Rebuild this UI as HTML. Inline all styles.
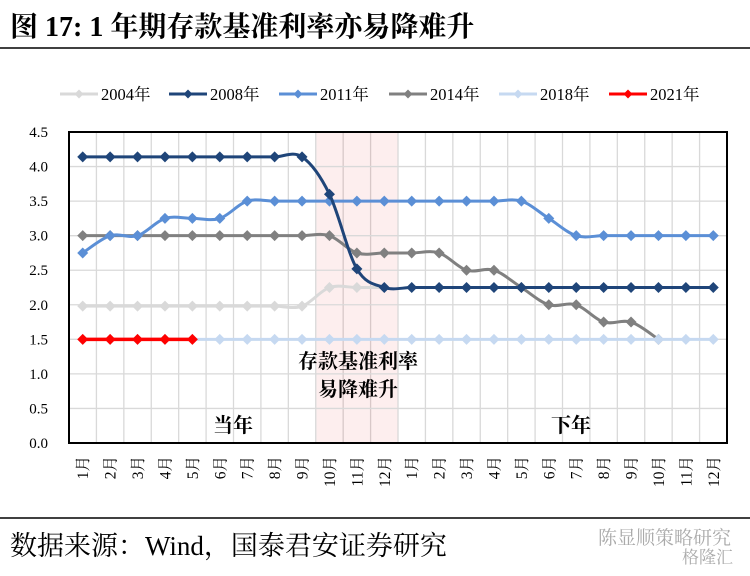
<!DOCTYPE html>
<html><head><meta charset="utf-8">
<style>
body{margin:0;background:#fff;}
svg text{font-family:"Liberation Serif","Noto Serif CJK SC",serif;}
</style></head>
<body>
<svg width="750" height="571" viewBox="0 0 750 571" xmlns="http://www.w3.org/2000/svg">
<text x="10" y="36" font-size="28" font-weight="bold">图 17:  1 年期存款基准利率亦易降难升</text>
<line x1="0" y1="48" x2="750" y2="48" stroke="#000" stroke-width="1.5"/>
<g id="legend"></g>
<g id="plot"></g>
<line x1="0" y1="518" x2="750" y2="518" stroke="#000" stroke-width="1.5"/>
<text x="10" y="555" font-size="27">数据来源：Wind，国泰君安证券研究</text>
<text x="598" y="544" font-size="19" fill="#aaa" font-family="Liberation Sans,Noto Sans CJK SC,sans-serif">陈显顺策略研究</text>
<text x="682" y="563" font-size="17" fill="#aaa" font-family="Liberation Sans,Noto Sans CJK SC,sans-serif">格隆汇</text>
</svg>
<script>
const months=["1月","2月","3月","4月","5月","6月","7月","8月","9月","10月","11月","12月","1月","2月","3月","4月","5月","6月","7月","8月","9月","10月","11月","12月"];
const yTicks=[0,0.5,1,1.5,2,2.5,3,3.5,4,4.5];
const yTickLabels=["0.0","0.5","1.0","1.5","2.0","2.5","3.0","3.5","4.0","4.5"];
const seriesNames=["2004年","2008年","2011年","2014年","2018年","2021年"];
const seriesColors=["#d9d9d9","#1f4579","#5b8fd6","#808080","#c6d9f1","#ff0000"];
const s2004=[1.98,1.98,1.98,1.98,1.98,1.98,1.98,1.98,1.98,2.25,2.25,2.25,null,null,null,null,null,null,null,null,null,null,null,null];
const s2008=[4.14,4.14,4.14,4.14,4.14,4.14,4.14,4.14,4.14,3.6,2.52,2.25,2.25,2.25,2.25,2.25,2.25,2.25,2.25,2.25,2.25,2.25,2.25,2.25];
const s2011=[2.75,3.0,3.0,3.25,3.25,3.25,3.5,3.5,3.5,3.5,3.5,3.5,3.5,3.5,3.5,3.5,3.5,3.25,3.0,3.0,3.0,3.0,3.0,3.0];
const s2014=[3.0,3.0,3.0,3.0,3.0,3.0,3.0,3.0,3.0,3.0,2.75,2.75,2.75,2.75,2.5,2.5,2.25,2.0,2.0,1.75,1.75,1.5,null,null];
const s2018=[1.5,1.5,1.5,1.5,1.5,1.5,1.5,1.5,1.5,1.5,1.5,1.5,1.5,1.5,1.5,1.5,1.5,1.5,1.5,1.5,1.5,1.5,1.5,1.5];
const s2021=[1.5,1.5,1.5,1.5,1.5,null,null,null,null,null,null,null,null,null,null,null,null,null,null,null,null,null,null,null];
const drawOrder=[0,3,4,2,1,5];
const allSeries=[s2004,s2008,s2011,s2014,s2018,s2021];

const NS="http://www.w3.org/2000/svg";
const L=69,R=727,T=132,B=443,YMAX=4.5;
const cw=(R-L)/months.length;
const xPos=i=>L+cw*(i+0.5);
const yPos=v=>B-(v/YMAX)*(B-T);
function mk(tag,attrs,parent){const e=document.createElementNS(NS,tag);for(const k in attrs)e.setAttribute(k,attrs[k]);parent.appendChild(e);return e;}
const plot=document.getElementById('plot');

const band=mk('rect',{x:L+cw*9,y:T,width:cw*3,height:B-T,fill:'#fdeeee'},plot);


for(let i=1;i<months.length;i++){
  const g=mk('line',{x1:L+cw*i,x2:L+cw*i,y1:T,y2:B,stroke:(i>9&&i<12)?'#d8c8c8':'#d9d9d9','stroke-width':1.3},plot);
  
  
}
yTicks.forEach((v,i)=>{
  if(v>0&&v<YMAX){const g=mk('line',{x1:L,x2:R,y1:yPos(v),y2:yPos(v),stroke:'#d9d9d9','stroke-width':1.3},plot);
  
  }
  const t=mk('text',{x:48,y:yPos(v)+5,'font-size':15,'text-anchor':'end'},plot);
  
  
  t.textContent=yTickLabels[i];
});
months.forEach((m,i)=>{
  const x=xPos(i)+5.5,y=456;
  const t=mk('text',{x:x,y:y,'font-size':15.5,'text-anchor':'end',transform:`rotate(-90 ${x} ${y})`},plot);
  
  
  t.textContent=m;
});
function smoothPath(pts){
  let d=`M${pts[0][0]},${pts[0][1]}`;
  for(let i=0;i<pts.length-1;i++){
    const p0=pts[i-1]||pts[i],p1=pts[i],p2=pts[i+1],p3=pts[i+2]||p2;
    const c1=[p1[0]+(p2[0]-p0[0])/6,p1[1]+(p2[1]-p0[1])/6];
    const c2=[p2[0]-(p3[0]-p1[0])/6,p2[1]-(p3[1]-p1[1])/6];
    d+=` C${c1[0]},${c1[1]} ${c2[0]},${c2[1]} ${p2[0]},${p2[1]}`;
  }
  return d;
}
function diamond(x,y,r){return `${x},${y-r} ${x+r},${y} ${x},${y+r} ${x-r},${y}`;}
drawOrder.forEach(si=>{
  const data=allSeries[si];const col=seriesColors[si];
  const g=mk('g',{},plot);
  
  
  const pts=[];data.forEach((v,i)=>{if(v!==null)pts.push([xPos(i),yPos(v)]);});
  const p=mk('path',{d:smoothPath(pts),fill:'none',stroke:col,'stroke-width':si===5?3.5:3},g);
  
  
  pts.forEach(pt=>{
    const m=mk('polygon',{points:diamond(pt[0],pt[1],5.5),fill:col},g);
    
    
  });
});
const fr=mk('rect',{x:L,y:T,width:R-L,height:B-T,fill:'none',stroke:'#000','stroke-width':2},plot);


[["存款基准利率",358,368,'annotation-line1'],["易降难升",358,396,'annotation-line2'],["当年",233,432,'label-this-year'],["下年",571,432,'label-next-year']].forEach(a=>{
  const t=mk('text',{x:a[1],y:a[2],'font-size':20,'text-anchor':'middle','font-weight':'bold'},plot);
  
  
  t.textContent=a[0];
});
const lg=document.getElementById('legend');
const lx=[60,169,279,389,499,609];
seriesNames.forEach((n,i)=>{
  const g=mk('g',{},lg);
  
  
  mk('line',{x1:lx[i],x2:lx[i]+38,y1:94,y2:94,stroke:seriesColors[i],'stroke-width':3},g);
  mk('polygon',{points:diamond(lx[i]+19,94,4.5),fill:seriesColors[i]},g);
  const t=mk('text',{x:lx[i]+41,y:100,'font-size':16.5},g);
  t.textContent=n;
});
</script>
</body></html>
